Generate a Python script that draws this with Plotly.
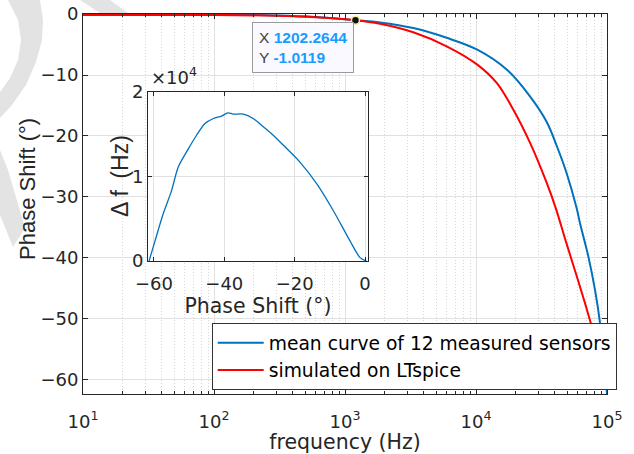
import plotly.graph_objects as go
import math

# ---- main chart data ----
freq_measured = [10, 100, 300, 600, 1202.2644, 1850, 3320, 5970, 10230, 17140,
                 25820, 34670, 41300, 49200, 58750, 62230, 71950, 80910, 88510, 100000]
phase_measured = [-0.05, -0.08, -0.25, -0.5, -1.01, -1.38, -2.3, -3.9, -5.85, -9.1,
                  -13.5, -17.7, -21.6, -26.1, -31.9, -34.3, -39.7, -45.2, -50.7, -62.3]

freq_sim = [10, 100, 300, 600, 1202.2644, 1850, 3320, 5970, 10230, 14390, 19280,
            25820, 34670, 40740, 48080, 57020, 67920, 76400, 88510, 100000]
phase_sim = [-0.15, -0.15, -0.3, -0.55, -1.01, -1.6, -3.0, -5.3, -8.3, -11.3, -15.7,
             -21.1, -27.7, -31.9, -37.0, -42.1, -47.4, -51.2, -56.2, -61.3]

# ---- inset data ----
inset_phase = [-61.4, -59.7, -57.4, -55.0, -53.1, -50.2, -47.9, -45.5, -43.1, -40.8,
               -39.0, -37.45, -34.6, -31.8, -28.9, -26.1, -23.2, -18.5, -13.7, -9.0,
               -4.27, -1.4, 0.4]
inset_df = [0, 2381, 5556, 8333, 11111, 13294, 14881, 16270, 16865, 17143,
            17540, 17380, 17380, 16865, 15873, 14881, 13690, 11706, 9127, 5952,
            2381, 397, 0]

# ---- datatip ----
tip_x = 1202.2644
tip_y = -1.0119

# ---- ticks ----
x_tickvals = [10, 100, 1000, 10000, 100000]
x_ticktext = ["10<sup>1</sup>", "10<sup>2</sup>", "10<sup>3</sup>", "10<sup>4</sup>", "10<sup>5</sup>"]
x_minor = [m * 10 ** d for d in range(1, 5) for m in range(2, 10)]
y_tickvals = [0, -10, -20, -30, -40, -50, -60]
inset_xticks = [-60, -40, -20, 0]
inset_yticks = [0, 10000, 20000]
inset_yticktext = ["0", "1", "2"]

blue = "#0072BD"
red = "#FF0000"
axc = "#262626"
HFONT = "DejaVu Sans"
VFONT = "Liberation Sans Narrow, Liberation Sans"

fig = go.Figure()
fig.add_trace(go.Scatter(x=freq_measured, y=phase_measured, mode="lines",
                         line=dict(color=blue, width=2, shape="spline", smoothing=1.0),
                         name="mean curve of 12 measured sensors"))
fig.add_trace(go.Scatter(x=freq_sim, y=phase_sim, mode="lines",
                         line=dict(color=red, width=2, shape="spline", smoothing=1.0),
                         name="simulated on LTspice"))
fig.add_trace(go.Scatter(x=[tip_x], y=[tip_y], mode="markers",
                         marker=dict(color="#111111", size=8,
                                     line=dict(color="#f5f0a0", width=1.5)),
                         showlegend=False, cliponaxis=False))
fig.add_trace(go.Scatter(x=inset_phase, y=inset_df, mode="lines",
                         line=dict(color=blue, width=1.3, shape="spline", smoothing=0.8),
                         xaxis="x2", yaxis="y2", showlegend=False))

# pixel -> paper helpers (plot area 83..607 x, 14..394 y)
def px(x):
    return (x - 83) / 524.0

def py(y):
    return (394 - y) / 380.0

shapes = []
# white background behind inset
shapes.append(dict(type="rect", xref="x2 domain", yref="y2 domain", x0=0, x1=1, y0=0, y1=1,
                   fillcolor="white", line=dict(width=0), layer="below"))
# faint watermark outside the plot area
wm = "#e3e3e3"
def path(points):
    s = "M " + " L ".join(f"{px(a):.4f},{py(b):.4f}" for a, b in points) + " Z"
    return s
shapes.append(dict(type="path", xref="paper", yref="paper", layer="below",
                   path=path([(18, 0), (40, 0), (43, 20), (42, 40), (36, 62), (26, 85),
                              (12, 105), (0, 118), (0, 92), (10, 78), (18, 60), (21, 40),
                              (18, 20), (8, 0)]),
                   fillcolor=wm, line=dict(width=0)))
shapes.append(dict(type="path", xref="paper", yref="paper", layer="below",
                   path=path([(0, 150), (8, 170), (25, 228), (13, 247), (0, 215)]),
                   fillcolor=wm, line=dict(width=0)))
shapes.append(dict(type="path", xref="paper", yref="paper", layer="below",
                   path=path([(80, 0), (110, 0), (128, 13), (100, 13)]),
                   fillcolor=wm, line=dict(width=0)))

annotations = [
    dict(text="×10<sup>4</sup>", xref="paper", yref="paper", x=px(149), y=py(90),
         xanchor="left", yanchor="bottom", showarrow=False,
         font=dict(family=HFONT, size=18, color=axc)),
    dict(text=("<span style='color:#404040'>X</span> <b>1202.2644</b><br>"
               "<span style='color:#404040'>Y</span> <b>-1.0119</b>"),
         xref="x", yref="y", x=math.log10(tip_x), y=tip_y, xanchor="right", yanchor="top",
         xshift=-1, yshift=-2, showarrow=False, align="left",
         font=dict(family="Liberation Sans", size=15.5, color="#1a9cff"),
         bgcolor="#f9f9ff", bordercolor="#9a9a9a", borderwidth=1, borderpad=6),
    # y-axis titles
    dict(text="Phase Shift (°)", xref="paper", yref="paper", x=px(27), y=py(189),
         xanchor="center", yanchor="middle", textangle=-90, showarrow=False,
         font=dict(family=VFONT, size=22, color=axc)),
    dict(text="Δ f\u2002(Hz)", xref="paper", yref="paper", x=px(120), y=py(176),
         xanchor="center", yanchor="middle", textangle=-90, showarrow=False,
         font=dict(family="Liberation Sans", size=23, color=axc)),
]

grid_major = "#e1e1e1"
grid_minor = "#d6d6d6"

fig.update_layout(
    width=634, height=454,
    margin=dict(l=83, r=27, t=14, b=60, autoexpand=False),
    paper_bgcolor="white", plot_bgcolor="white",
    shapes=shapes, annotations=annotations,
    legend=dict(xref="container", yref="container", x=211.7 / 634, y=1 - 323 / 454,
                xanchor="left", yanchor="top",
                bgcolor="white", bordercolor="#333333", borderwidth=1,
                font=dict(family=HFONT, size=18.7, color="black"),
                itemwidth=46, tracegroupgap=0),
    xaxis=dict(type="log", range=[1, 5], tickvals=x_tickvals, ticktext=x_ticktext,
               ticks="inside", ticklen=5, tickcolor=axc, showline=True, linecolor=axc,
               linewidth=1, mirror="ticks", showgrid=True, gridcolor=grid_major,
               gridwidth=1, zeroline=False, ticklabelstandoff=11,
               tickfont=dict(family=HFONT, size=18, color=axc),
               title=dict(text="frequency (Hz)", font=dict(family=HFONT, size=20.5, color=axc),
                          standoff=7),
               minor=dict(tickmode="array", tickvals=x_minor, ticks="inside", ticklen=3,
                          tickcolor=axc, showgrid=True, gridcolor=grid_minor,
                          griddash="1px,2px", gridwidth=1)),
    yaxis=dict(range=[-62.3, 0], tickvals=y_tickvals, ticks="inside", ticklen=5,
               tickcolor=axc, showline=True, linecolor=axc, linewidth=1, mirror="ticks",
               showgrid=True, gridcolor=grid_major, zeroline=False,
               tickfont=dict(family=HFONT, size=18, color=axc)),
    xaxis2=dict(domain=[px(148), px(368)], anchor="y2", range=[-61.7, 0.85],
                tickvals=inset_xticks, ticks="inside", ticklen=4, tickcolor=axc,
                showline=True, linecolor=axc, linewidth=1, mirror="ticks",
                showgrid=True, gridcolor=grid_major, zeroline=False, ticklabelstandoff=6,
                tickfont=dict(family=HFONT, size=18, color=axc),
                title=dict(text="Phase Shift (°)", font=dict(family=HFONT, size=20.5, color=axc),
                           standoff=0)),
    yaxis2=dict(domain=[py(261), py(92)], anchor="x2", range=[0, 20000],
                tickvals=inset_yticks, ticktext=inset_yticktext, ticks="inside", ticklen=4,
                tickcolor=axc, showline=True, linecolor=axc, linewidth=1, mirror="ticks",
                showgrid=True, gridcolor=grid_major, zeroline=False,
                tickfont=dict(family=HFONT, size=18, color=axc)),
)

fig.write_html("out.html", config={"displayModeBar": False},
               post_script="document.body.style.margin='0';document.body.style.overflow='hidden';")
